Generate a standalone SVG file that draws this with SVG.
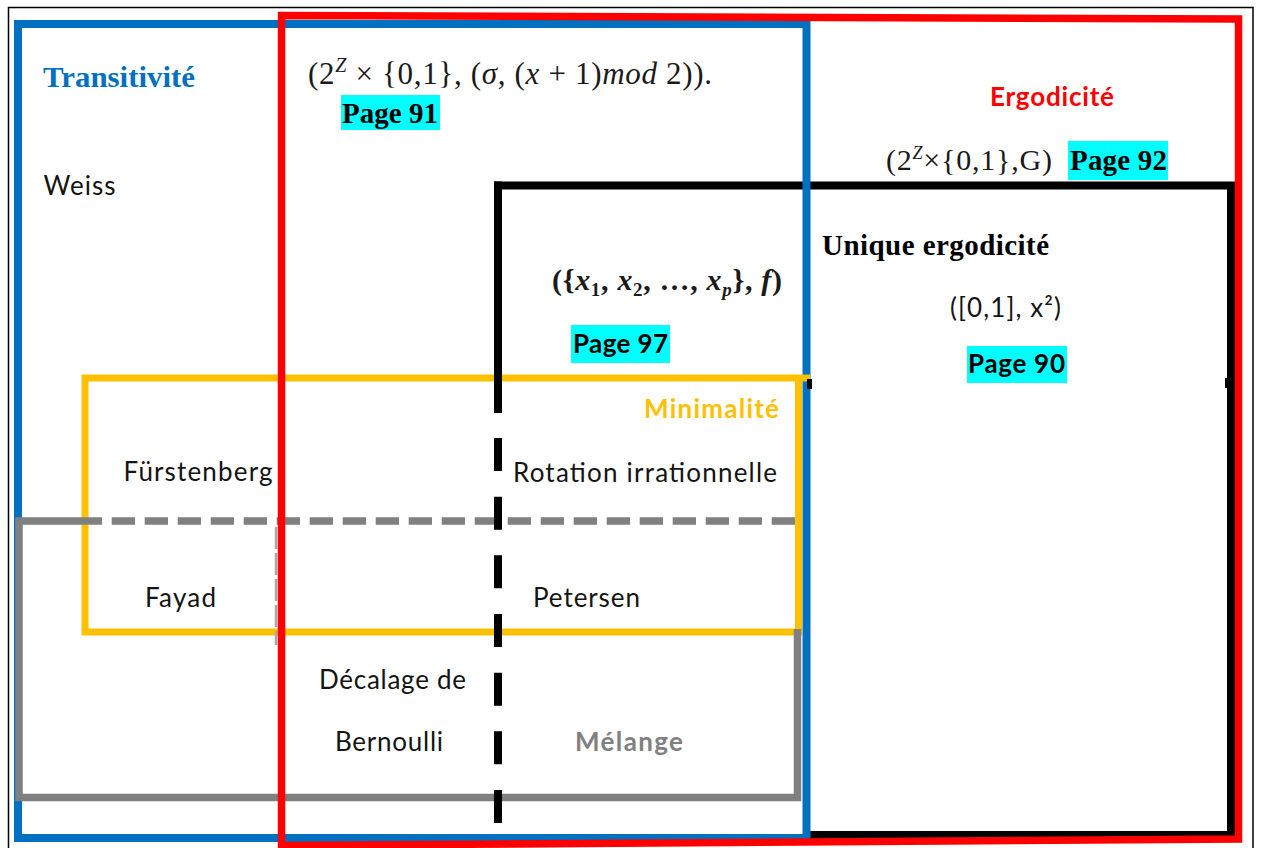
<svg xmlns="http://www.w3.org/2000/svg" width="1261" height="848" viewBox="0 0 1261 848">
<style>
.sans{font-family:Lato,'Open Sans','Liberation Sans',sans-serif;font-size:26px;fill:#141414}
.sansb{font-family:Lato,'Open Sans','Liberation Sans',sans-serif;font-size:26px;font-weight:bold;fill:#000}
.serifb{font-family:'Liberation Serif','Times New Roman',serif;font-size:29px;font-weight:bold;fill:#000}
.math{font-family:'Liberation Serif','Times New Roman',serif;font-size:30px;fill:#1a1a1a}
.it{font-style:italic}
.hl{fill:#00FFFF}
.edge{fill:none;stroke-linejoin:miter;stroke-linecap:butt}
</style>
<rect width="1261" height="848" fill="#fff"/>
<rect x="8.5" y="7.5" width="1244.5" height="870" fill="none" stroke="#000" stroke-width="1.5"/>
<g id="connectors"></g>

<g id="unique-ergodicite-frame">
<path class="edge" d="M494,185.5 H1231 V835 H806" stroke="#000" stroke-width="8"/>
</g>

<g id="transitivite">
<rect class="edge" x="18" y="24" width="788.5" height="814" stroke="#0070C0" stroke-width="8"/>
</g>

<g id="minimalite">
<path class="edge" d="M810,378 H85 V632 H798.5 V378" stroke="#FFC000" stroke-width="7"/>
</g>

<g id="melange">
<path class="edge" d="M102,521 H19 V797.5 H797.5 V629" stroke="#808080" stroke-width="7.5"/>
<path class="edge" d="M111.7,521 H795" stroke="#808080" stroke-width="7.5" stroke-dasharray="23.3 9.7"/>
<path class="edge" d="M276,527 V645" stroke="#a8a8a8" stroke-width="2.5" stroke-dasharray="22 4"/>
</g>

<g id="unique-ergodicite">
<path class="edge" d="M498,181.5 V413" stroke="#000" stroke-width="8"/>
<path class="edge" d="M498,438 V823" stroke="#000" stroke-width="8" stroke-dasharray="33 25.67"/>
<rect x="807" y="379" width="5" height="10" fill="#000"/>
<rect x="1225" y="378" width="6" height="10" fill="#000"/>
</g>

<g id="ergodicite">
<path class="edge" d="M281.5,15.5 L1238.5,19 L1238.5,839 L281.5,845.5 Z" stroke="#FF0000" stroke-width="7.5"/>
</g>

<g id="label-transitivite">
<text x="43" y="87" class="serifb" style="fill:#0070C0;font-size:30px" textLength="152" lengthAdjust="spacingAndGlyphs">Transitivité</text>
</g>
<g id="label-ergodicite">
<text x="990" y="106" class="sansb" style="fill:#FF0000" textLength="124">Ergodicité</text>
</g>
<g id="label-unique-ergodicite">
<text x="822" y="255" class="serifb" textLength="227">Unique ergodicité</text>
</g>
<g id="label-minimalite">
<text x="644" y="418" class="sansb" style="fill:#FFC000" textLength="135">Minimalité</text>
</g>
<g id="label-melange">
<text x="575" y="751" class="sansb" style="fill:#808080" textLength="108">Mélange</text>
</g>

<g id="ex-weiss"><text x="43.5" y="195" class="sans" textLength="72">Weiss</text></g>

<g id="ex-shift-mod2">
<text x="308" y="84" class="math" style="font-size:31px" textLength="404">(2<tspan class="it" font-size="20" dy="-12">Z</tspan><tspan dy="12"> × {0,1}, (</tspan><tspan class="it">σ</tspan>, (<tspan class="it">x</tspan> + 1)<tspan class="it">mod</tspan> 2)).</text>
<rect class="hl" x="341" y="95" width="99" height="35"/>
<text x="342" y="123" class="serifb" textLength="96">Page 91</text>
</g>

<g id="ex-shift-G">
<text x="886" y="170" class="math" textLength="166">(2<tspan class="it" font-size="18" dy="-11">Z</tspan><tspan dy="11">×{0,1},G)</tspan></text>
<rect class="hl" x="1068" y="141" width="100" height="39"/>
<text x="1070" y="170" class="serifb" textLength="97">Page 92</text>
</g>

<g id="ex-x2">
<text x="950" y="317" class="sans" textLength="111">([0,1], x²)</text>
<rect class="hl" x="967" y="346" width="100" height="37"/>
<text x="968" y="373" class="sansb" textLength="97">Page 90</text>
</g>

<g id="ex-periodic">
<text x="552" y="290" class="math" style="font-weight:bold" textLength="230">({<tspan class="it">x</tspan><tspan font-size="19" dy="6">1</tspan><tspan dy="-6">, </tspan><tspan class="it">x</tspan><tspan font-size="19" dy="6">2</tspan><tspan dy="-6">, …, </tspan><tspan class="it">x</tspan><tspan class="it" font-size="19" dy="6">p</tspan><tspan dy="-6">}, </tspan><tspan class="it">f</tspan>)</text>
<rect class="hl" x="571" y="325" width="99" height="38"/>
<text x="573" y="353" class="sansb" textLength="95">Page 97</text>
</g>

<g id="ex-furstenberg"><text x="123.5" y="481" class="sans" textLength="149">Fürstenberg</text></g>
<g id="ex-rotation"><text x="513" y="481.5" class="sans" textLength="264">Rotation irrationnelle</text></g>
<g id="ex-fayad"><text x="145" y="606.5" class="sans" textLength="71">Fayad</text></g>
<g id="ex-petersen"><text x="533" y="606.5" class="sans" textLength="107">Petersen</text></g>
<g id="ex-bernoulli">
<text x="319" y="689" class="sans" textLength="147">Décalage de</text>
<text x="335" y="751" class="sans" textLength="108">Bernoulli</text>
</g>
</svg>
